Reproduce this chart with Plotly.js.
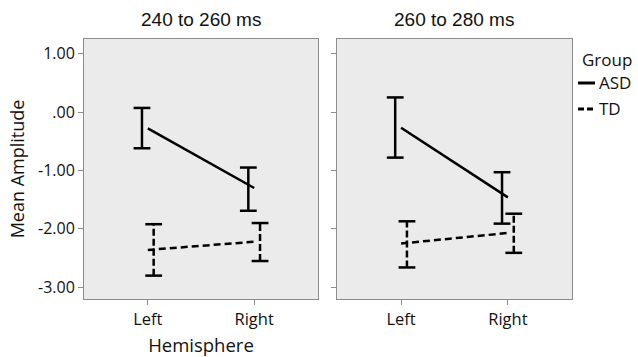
<!DOCTYPE html>
<html>
<head>
<meta charset="utf-8">
<script src="https://cdn.plot.ly/plotly-3.0.1.min.js"></script>
<style>html,body{margin:0;padding:0;background:#fff;}#chart{width:638px;height:357px;}</style>
</head>
<body>
<div id="chart"></div>
<script>
// ---- data ----
const hemispheres = ['Left', 'Right'];
const panelTitles = ['240 to 260 ms', '260 to 280 ms'];
const groups = ['ASD', 'TD'];
const yTickVals = [1, 0, -1, -2, -3];
const yTickText = ['1.00', '.00', '-1.00', '-2.00', '-3.00'];

// 240 to 260 ms
const asdMean240 = [-0.28, -1.30];
const asdLow240  = [-0.62, -1.69];
const asdHigh240 = [0.07, -0.95];
const tdMean240  = [-2.36, -2.22];
const tdLow240   = [-2.80, -2.55];
const tdHigh240  = [-1.92, -1.90];

// 260 to 280 ms
const asdMean260 = [-0.27, -1.46];
const asdLow260  = [-0.78, -1.91];
const asdHigh260 = [0.25, -1.03];
const tdMean260  = [-2.25, -2.07];
const tdLow260   = [-2.66, -2.41];
const tdHigh260  = [-1.87, -1.74];

const panelData = [
  {ASD: {mean: asdMean240, low: asdLow240, high: asdHigh240},
   TD:  {mean: tdMean240,  low: tdLow240,  high: tdHigh240}},
  {ASD: {mean: asdMean260, low: asdLow260, high: asdHigh260},
   TD:  {mean: tdMean260,  low: tdLow260,  high: tdHigh260}}
];

const styles = {
  ASD: {dash: 'solid', stemDash: 'solid', dodge: -0.055},
  TD:  {dash: '7px,4px', stemDash: '7px,3px', dodge: 0.055}
};
const catX = hemispheres.map((h, i) => i);
const FONT = 'Open Sans';

const traces = [];
panelData.forEach((pd, p) => {
  const xa = p === 0 ? 'x' : 'x2';
  const ya = p === 0 ? 'y' : 'y2';
  groups.forEach(g => {
    const d = pd[g];
    const st = styles[g];
    // mean line
    traces.push({
      type: 'scatter', mode: 'lines', xaxis: xa, yaxis: ya,
      x: catX, y: d.mean, name: g, showlegend: false,
      line: {color: '#000', width: 2.5, dash: st.dash},
      hoverinfo: 'skip'
    });
    // error bar stems (dodged a little, as in the original)
    const sx = [], sy = [], cx = [], cy = [];
    catX.forEach((x, i) => {
      const xx = x + st.dodge;
      sx.push(xx, xx, null);
      sy.push(d.low[i], d.high[i], null);
      cx.push(xx, xx);
      cy.push(d.low[i], d.high[i]);
    });
    traces.push({
      type: 'scatter', mode: 'lines', xaxis: xa, yaxis: ya,
      x: sx, y: sy, showlegend: false, hoverinfo: 'skip',
      line: {color: '#000', width: 2.5, dash: st.stemDash}
    });
    // caps
    traces.push({
      type: 'scatter', mode: 'markers', xaxis: xa, yaxis: ya,
      x: cx, y: cy, showlegend: false, hoverinfo: 'skip',
      marker: {symbol: 'line-ew-open', size: 12, color: '#000', line: {color: '#000', width: 2.5}}
    });
  });
});

const xCommon = {
  tickvals: catX, ticktext: hemispheres,
  range: [-0.6, 1.6], fixedrange: true,
  showgrid: false, zeroline: false,
  showline: true, mirror: true, linecolor: '#8c8c8c', linewidth: 1,
  ticks: 'outside', ticklen: 5, tickcolor: '#8c8c8c', tickwidth: 1,
  tickfont: {family: FONT, size: 16.5, color: '#111'}
};
const yCommon = {
  domain: [0, 1], range: [-3.2, 1.25],
  tickvals: yTickVals, ticktext: yTickText,
  showgrid: false, zeroline: false,
  showline: true, mirror: true, linecolor: '#8c8c8c', linewidth: 1,
  ticks: 'outside', ticklen: 5, tickcolor: '#8c8c8c',
  tickfont: {family: FONT, size: 16, color: '#111'}
};

// legend (drawn beside the second panel)
const legX0 = 1.0123, legX1 = 1.0471, legText = 1.0512;
const legRows = {ASD: 0.8308, TD: 0.7308};

const layout = {
  width: 638, height: 357,
  margin: {l: 84, r: 66, t: 39, b: 58},
  paper_bgcolor: '#fff', plot_bgcolor: '#ebebeb',
  showlegend: false,
  xaxis: Object.assign({}, xCommon, {
    domain: [0, 0.4795], anchor: 'y',
    title: {text: 'Hemisphere', standoff: 10, font: {family: FONT, size: 18.5, color: '#111'}}
  }),
  xaxis2: Object.assign({}, xCommon, {domain: [0.5184, 1], anchor: 'y2'}),
  yaxis: Object.assign({}, yCommon, {
    anchor: 'x',
    title: {text: 'Mean Amplitude', standoff: 8, font: {family: FONT, size: 18, color: '#111'}}
  }),
  yaxis2: Object.assign({}, yCommon, {anchor: 'x2', matches: 'y', showticklabels: false}),
  annotations: panelTitles.map((t, i) => ({
    text: t, xref: (i === 0 ? 'x' : 'x2') + ' domain', yref: 'paper',
    x: 0.5, y: 1, yshift: 7, yanchor: 'bottom', xanchor: 'center', showarrow: false,
    font: {family: 'Liberation Sans', size: 19, color: '#111'}
  })).concat([
    {text: 'Group', xref: 'paper', yref: 'paper', x: 1.0164, y: 0.923,
     xanchor: 'left', yanchor: 'middle', showarrow: false,
     font: {family: FONT, size: 17, color: '#111'}}
  ]).concat(groups.map(g => ({
    text: g, xref: 'paper', yref: 'paper', x: legText, y: legRows[g],
    xanchor: 'left', yanchor: 'middle', showarrow: false,
    font: {family: FONT, size: 17, color: '#111'}
  }))),
  shapes: groups.map(g => ({
    type: 'line', xref: 'paper', yref: 'paper',
    x0: legX0, x1: legX1, y0: legRows[g], y1: legRows[g],
    line: {color: '#000', width: 3, dash: g === 'TD' ? '6px,3px' : 'solid'}
  }))
};

Plotly.newPlot('chart', traces, layout, {staticPlot: true, displayModeBar: false});
</script>
</body>
</html>
